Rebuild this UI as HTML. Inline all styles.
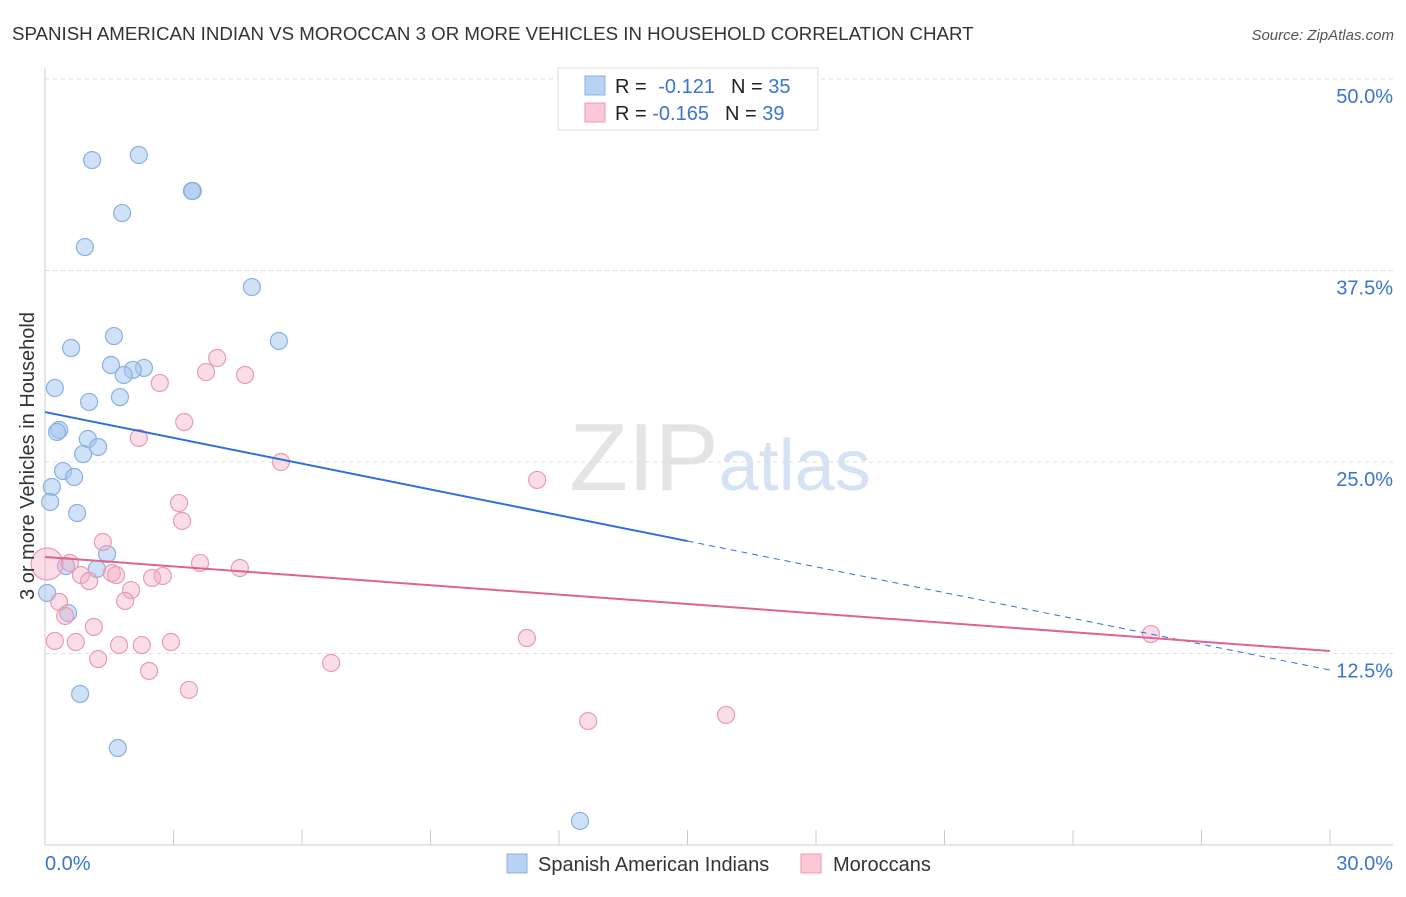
<!DOCTYPE html>
<html><head><meta charset="utf-8"><style>
body{margin:0;background:#fff;font-family:"Liberation Sans",sans-serif}
svg text{font-family:"Liberation Sans",sans-serif}
</style></head><body>
<svg id="chart" width="1406" height="892" xmlns="http://www.w3.org/2000/svg">
<text x="12" y="40" font-size="18.7" fill="#333">SPANISH AMERICAN INDIAN VS MOROCCAN 3 OR MORE VEHICLES IN HOUSEHOLD CORRELATION CHART</text>
<text x="1394" y="40" font-size="15" fill="#555" text-anchor="end" font-style="italic">Source: ZipAtlas.com</text>
<text x="720" y="490" font-size="96" text-anchor="middle" fill="#e4e4e4" font-family="Liberation Serif"><tspan>ZIP</tspan><tspan fill="#d4e2f4" font-family="Liberation Sans" font-size="72">atlas</tspan></text>
<g id="grid"></g><g id="axes"></g><g id="marks"></g>
<text transform="translate(34,456) rotate(-90)" font-size="20" fill="#333" text-anchor="middle">3 or more Vehicles in Household</text>
<g>
<rect x="558" y="68" width="260" height="62" fill="#fff" stroke="#ddd"/>
<rect x="585" y="76" width="20" height="19" fill="#b8d2f4" stroke="#8ab0e0"/>
<text x="615" y="93" font-size="20" fill="#222">R = <tspan fill="#3a74d4" dx="6">-0.121</tspan><tspan dx="16">N = </tspan><tspan fill="#3a74d4">35</tspan></text>
<rect x="585" y="103" width="20" height="19" fill="#fbc8d6" stroke="#e89ab5"/>
<text x="615" y="120" font-size="20" fill="#222">R = <tspan fill="#3a74d4">-0.165</tspan><tspan dx="16">N = </tspan><tspan fill="#3a74d4">39</tspan></text>
</g>
<g>
<rect x="507" y="854" width="20" height="19" fill="#b8d2f4" stroke="#8ab0e0"/>
<text x="538" y="871" font-size="20" fill="#333">Spanish American Indians</text>
<rect x="801" y="854" width="20" height="19" fill="#fbc8d6" stroke="#e89ab5"/>
<text x="833" y="871" font-size="20" fill="#333">Moroccans</text>
</g>
</svg>
<script>
const blueX=[1.10,2.19,3.45,3.43,1.80,0.93,4.83,5.46,1.61,0.61,1.54,2.31,2.05,1.84,0.23,1.75,1.03,0.33,0.28,1.00,1.24,0.89,0.42,0.68,0.16,0.12,0.75,1.45,0.49,1.21,0.05,0.54,0.82,1.70,12.49];
const blueY=[44.71,45.04,42.69,42.69,41.25,39.03,36.42,32.90,33.22,32.44,31.33,31.14,31.01,30.68,29.83,29.24,28.92,27.09,26.96,26.50,25.98,25.52,24.41,24.02,23.37,22.39,21.67,19.00,18.21,18.02,16.45,15.14,9.86,6.33,1.57];
const pinkX=[0.05,4.02,3.76,4.67,2.68,3.25,2.19,5.51,11.49,3.13,3.20,1.35,0.58,1.56,0.84,1.66,2.50,2.75,3.62,4.55,1.03,2.01,1.87,0.33,0.47,1.14,0.23,0.72,1.73,2.26,2.94,1.24,2.43,6.68,11.25,3.36,12.68,15.90,25.82];
const pinkY=[18.34,31.79,30.87,30.68,30.16,27.61,26.57,25.0,23.83,22.32,21.15,19.78,18.41,17.75,17.62,17.62,17.43,17.56,18.41,18.08,17.23,16.64,15.93,15.86,14.95,14.23,13.32,13.25,13.05,13.05,13.25,12.14,11.36,11.88,13.51,10.12,8.09,8.49,13.77];
const yTicks=[50,37.5,25,12.5];
const yTickLabels=["50.0%","37.5%","25.0%","12.5%"];
const xTicks=[0,3,6,9,12,15,18,21,24,27,30];
const blueTrend=[28.26,11.42];
const pinkTrend=[18.80,12.66];
const NS="http://www.w3.org/2000/svg";
const X=v=>45+v*1285/30, Y=v=>845-v*15.32;
function mk(p,t,a){const e=document.createElementNS(NS,t);for(const k in a)e.setAttribute(k,a[k]);document.getElementById(p).appendChild(e);return e;}
yTicks.forEach((t,i)=>{
 const l=mk('grid','line',{x1:45,x2:1393,y1:Y(t),y2:Y(t),stroke:'#ddd','stroke-dasharray':'4,4'});
 
 
 const tx=mk('grid','text',{x:1393,y:Y(t)+24,'font-size':20,fill:'#3a74d4','text-anchor':'end'});tx.textContent=yTickLabels[i];
 
 
});
mk('axes','line',{x1:45,x2:45,y1:68,y2:845,stroke:'#ccc'});
mk('axes','line',{x1:45,x2:1393,y1:845,y2:845,stroke:'#ccc'});
xTicks.forEach(t=>{const l=mk('axes','line',{x1:X(t),x2:X(t),y1:830,y2:845,stroke:'#ccc'});
 
 });
let a=mk('axes','text',{x:45,y:870,'font-size':20,fill:'#3a74d4'});a.textContent='0.0%';


a=mk('axes','text',{x:1393,y:870,'font-size':20,fill:'#3a74d4','text-anchor':'end'});a.textContent='30.0%';


blueX.forEach((x,i)=>{const c=mk('marks','circle',{cx:X(x),cy:Y(blueY[i]),r:8.5,fill:'rgba(160,195,240,0.5)',stroke:'#8ab0e0','stroke-width':1.2});
 
 });
pinkX.forEach((x,i)=>{const c=mk('marks','circle',{cx:X(x),cy:Y(pinkY[i]),r:i===0?16:8.5,fill:'rgba(245,170,195,0.4)',stroke:'#e89ab5','stroke-width':1.2});
 
 });
const bAt=x=>blueTrend[0]+(blueTrend[1]-blueTrend[0])*x/30;
let t=mk('marks','line',{x1:X(0),y1:Y(bAt(0)),x2:X(15),y2:Y(bAt(15)),stroke:'#2f6fd6','stroke-width':2});


t=mk('marks','line',{x1:X(15),y1:Y(bAt(15)),x2:X(30),y2:Y(bAt(30)),stroke:'#2f6fd6','stroke-width':1,'stroke-dasharray':'6,5'});


t=mk('marks','line',{x1:X(0),y1:Y(pinkTrend[0]),x2:X(30),y2:Y(pinkTrend[1]),stroke:'#e0628f','stroke-width':2});


</script>
</body></html>
